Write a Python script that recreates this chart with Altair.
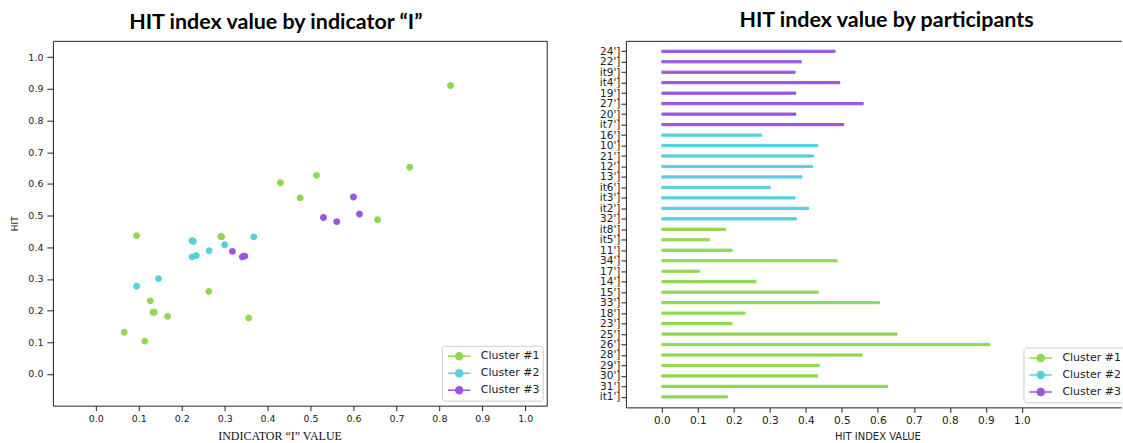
import altair as alt
import pandas as pd

participants = ["24']", "22']", "it9']", "it4']", "19']", "27']", "20']", "it7']",
                "16']", "10']", "21']", "12']", "13']", "it6']", "it3']", "it2']", "32']",
                "it8']", "it5']", "11']", "34']", "17']", "14']", "15']", "33']", "18']",
                "23']", "25']", "26']", "28']", "29']", "30']", "31']", "it1']"]
clusters = (["Cluster #3"] * 8) + (["Cluster #2"] * 9) + (["Cluster #1"] * 17)
hit_values = [0.481, 0.387, 0.370, 0.494, 0.372, 0.559, 0.372, 0.505,
              0.277, 0.433, 0.421, 0.419, 0.389, 0.301, 0.370, 0.408, 0.374,
              0.177, 0.132, 0.195, 0.487, 0.104, 0.261, 0.434, 0.604, 0.231,
              0.195, 0.653, 0.911, 0.556, 0.437, 0.433, 0.627, 0.182]
indicator_values = [0.561, 0.318, 0.341, 0.530, 0.344, 0.600, 0.347, 0.614,
                    0.095, 0.368, 0.224, 0.227, 0.264, 0.146, 0.224, 0.300, 0.234,
                    0.356, 0.066, 0.133, 0.656, 0.114, 0.263, 0.291, 0.430, 0.127,
                    0.136, 0.731, 0.826, 0.476, 0.095, 0.293, 0.514, 0.167]

tick_values = [0.0, 0.1, 0.2, 0.3, 0.4, 0.5, 0.6, 0.7, 0.8, 0.9, 1.0]
cluster_names = ["Cluster #1", "Cluster #2", "Cluster #3"]
cluster_colors = ["#8ed950", "#56d0dd", "#9b55e0"]

df = pd.DataFrame({"participant": participants, "cluster": clusters,
                   "hit": hit_values, "indicator": indicator_values})

color_scale = alt.Scale(domain=cluster_names, range=cluster_colors)
SYMBOL = "M-0.69,0H2.74M0.51,0A0.54,0.54,0,1,1,1.59,0A0.54,0.54,0,1,1,0.51,0Z"


def legend(x, y):
    return alt.Legend(title=None, orient="none", legendX=x, legendY=y,
                      symbolType=SYMBOL, symbolSize=169, symbolStrokeWidth=1.5,
                      labelFont="DejaVu Sans", labelFontSize=11, labelColor="#222",
                      labelOffset=21, padding=3, rowPadding=2,
                      fillColor="white", strokeColor="#cccccc", cornerRadius=3)


AX = dict(labelFont="DejaVu Sans", labelColor="#222", tickColor="#222", grid=False)

left = alt.Chart(df.iloc[::-1]).mark_point(filled=True, size=29, strokeWidth=1.5, opacity=1).encode(
    x=alt.X("indicator:Q", scale=alt.Scale(domain=[-0.1, 1.05], nice=False, zero=False),
            axis=alt.Axis(values=tick_values, format=".1f", labelFontSize=9.5, tickSize=5,
                          labelPadding=3, domain=False,
                          title="INDICATOR “I” VALUE", titleFont="Liberation Serif",
                          titleFontSize=12, titleFontWeight="normal", titleColor="#111",
                          titleX=227, titleY=34, titleBaseline="alphabetic", **AX)),
    y=alt.Y("hit:Q", scale=alt.Scale(domain=[-0.1, 1.052], nice=False, zero=False),
            axis=alt.Axis(values=tick_values, format=".1f", labelFontSize=9.5, tickSize=6,
                          labelPadding=4, domain=False,
                          title="HIT", titleFont="DejaVu Sans", titleFontSize=9,
                          titleFontWeight="normal", titleColor="#111", titlePadding=8, **AX)),
    color=alt.Color("cluster:N", scale=color_scale, legend=legend(389.7, 305.5)),
    stroke=alt.Stroke("cluster:N", scale=color_scale, legend=legend(389.7, 305.5)),
).properties(
    width=494.7, height=365.5,
    view=alt.ViewBackground(stroke="#222", strokeWidth=1),
    title=alt.TitleParams("HIT index value by indicator “I”", font="Lato", fontSize=21.5,
                          fontWeight="bold", color="#000", anchor="middle", frame="group",
                          dx=-24, offset=-10, baseline="alphabetic"),
)

bars = alt.Chart(df).mark_bar(size=2.2, strokeWidth=1, opacity=1).encode(
    x=alt.X("hit:Q", scale=alt.Scale(domain=[-0.1, 1.276], nice=False, zero=False),
            axis=alt.Axis(values=tick_values, format=".1f", labelFontSize=10.5, tickSize=5,
                          labelPadding=3, domain=True, domainColor="#222",
                          title="HIT INDEX VALUE", titleFont="DejaVu Sans", titleFontSize=10,
                          titleFontWeight="normal", titleColor="#222", titleX=252,
                          titleY=32.5, titleBaseline="alphabetic", **AX)),
    x2=alt.datum(0),
    y=alt.Y("participant:N", sort=participants,
            scale=alt.Scale(type="point", padding=1.75),
            axis=alt.Axis(title=None, labelFontSize=10.5, tickSize=5, labelPadding=1,
                          domain=True, domainColor="#222", **AX)),
    color=alt.Color("cluster:N", scale=color_scale, legend=legend(398.3, 307.2)),
    stroke=alt.Stroke("cluster:N", scale=color_scale, legend=legend(398.3, 307.2)),
)

top_edge = alt.Chart(df).mark_bar(opacity=0).encode(
    x=alt.X("hit:Q", axis=alt.Axis(orient="top", labels=False, ticks=False, title=None,
                                   grid=False, domain=True, domainColor="#222")),
    x2=alt.datum(0),
)

right = alt.layer(bars, top_edge).resolve_axis(x="independent").properties(
    width=496.3, height=367.2,
    view=alt.ViewBackground(stroke="transparent"),
    title=alt.TitleParams("HIT index value by participants", font="Lato", fontSize=21.5,
                          fontWeight="bold", color="#000", anchor="middle", frame="group",
                          dx=13, offset=-7.5, baseline="alphabetic"),
)

chart = alt.hconcat(left, right, spacing=79, bounds="flush").resolve_scale(
    color="independent", stroke="independent"
).resolve_legend(
    color="independent", stroke="independent"
).properties(
    padding={"left": 10, "top": 8.5, "right": -3, "bottom": 0},
).configure(background="white")

chart.save("out.html", embed_options={"renderer": "svg", "actions": False})
